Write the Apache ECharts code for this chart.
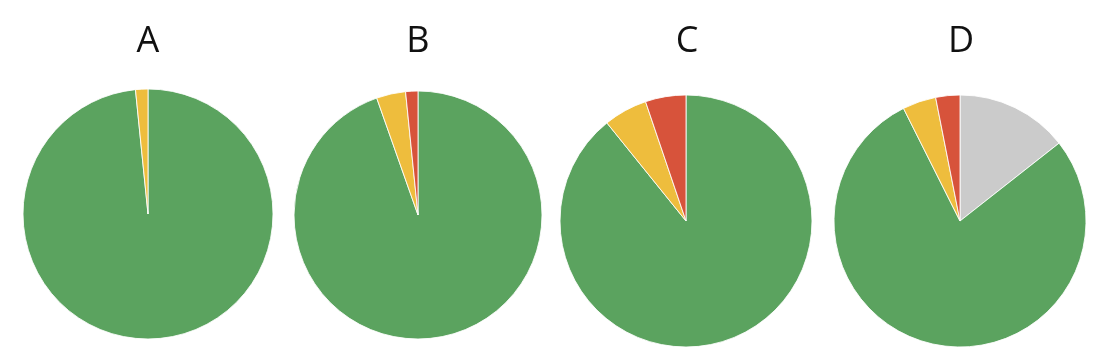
<!DOCTYPE html>
<html>
<head>
<meta charset="utf-8">
<script src="https://cdn.jsdelivr.net/npm/echarts@6/dist/echarts.min.js"></script>
<style>
html,body{margin:0;padding:0;background:#fff;}
#c{width:1102px;height:358px;}
</style>
</head>
<body>
<div id="c"></div>
<script>
const titles = ['A', 'B', 'C', 'D'];
const categories = ['Other', 'Green', 'Yellow', 'Red'];
const otherValues = [0, 0, 0, 14.4];
const greenValues = [98.4, 94.6, 89.2, 78.2];
const yellowValues = [1.6, 3.8, 5.6, 4.3];
const redValues = [0, 1.6, 5.2, 3.1];

const colors = {Other: '#cbcbcb', Green: '#5ba35f', Yellow: '#eebd3d', Red: '#d7533b'};
const centers = [[148, 214], [418, 215], [686, 221], [960, 221]];
const radii = [125, 124, 126, 126];
const titleX = [148, 418, 687, 961];

const seriesVals = [otherValues, greenValues, yellowValues, redValues];

const chart = echarts.init(document.getElementById('c'), null, {renderer: 'canvas'});
const series = titles.map((t, i) => ({
  type: 'pie',
  name: t,
  center: centers[i],
  radius: [0, radii[i]],
  startAngle: 90,
  clockwise: true,
  label: {show: false},
  labelLine: {show: false},
  emphasis: {disabled: true},
  itemStyle: {borderColor: 'rgba(255,255,255,0.85)', borderWidth: 1},
  data: categories.map((c, k) => ({name: c, value: seriesVals[k][i], itemStyle: {color: colors[c]}}))
                  .filter(d => d.value > 0)
}));
const title = titles.map((t, i) => ({
  text: t,
  left: titleX[i],
  top: 24,
  padding: 0,
  textAlign: 'center',
  textStyle: {fontFamily: 'Open Sans', fontSize: 36, fontWeight: 'normal', color: '#111'}
}));
chart.setOption({
  animation: false,
  backgroundColor: '#ffffff',
  title: title,
  series: series
});
</script>
</body>
</html>
